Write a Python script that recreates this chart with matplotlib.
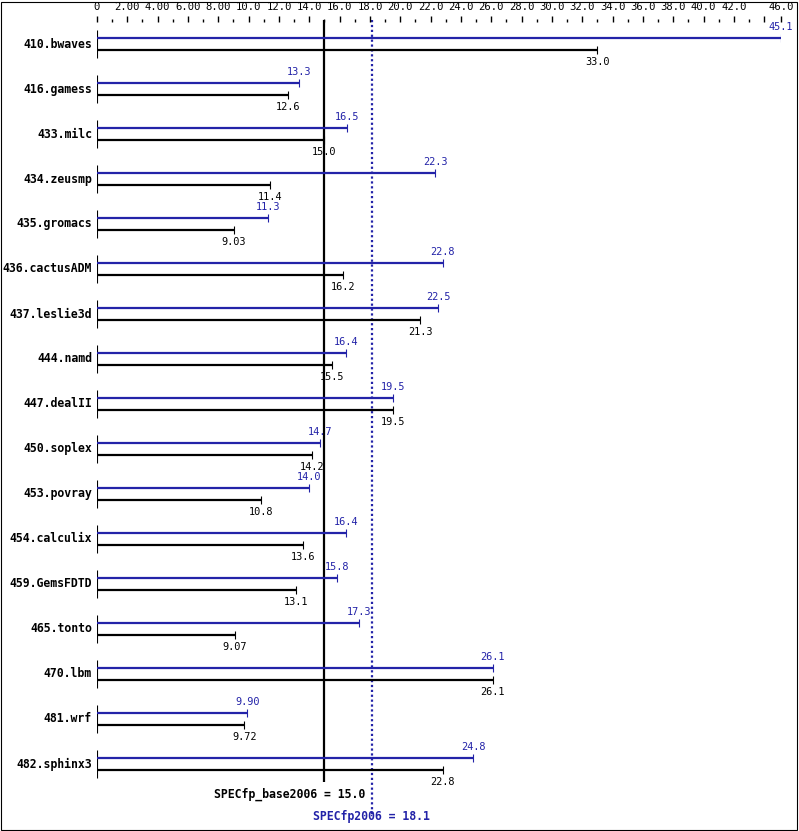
import matplotlib
matplotlib.use("Agg")
import matplotlib.pyplot as plt
from matplotlib.patches import Rectangle

plt.rcParams['font.family'] = ['DejaVu Sans Mono']

benchmarks = ["410.bwaves", "416.gamess", "433.milc", "434.zeusmp", "435.gromacs",
              "436.cactusADM", "437.leslie3d", "444.namd", "447.dealII", "450.soplex",
              "453.povray", "454.calculix", "459.GemsFDTD", "465.tonto", "470.lbm",
              "481.wrf", "482.sphinx3"]
peak = [45.1, 13.3, 16.5, 22.3, 11.3, 22.8, 22.5, 16.4, 19.5, 14.7,
        14.0, 16.4, 15.8, 17.3, 26.1, 9.90, 24.8]
base = [33.0, 12.6, 15.0, 11.4, 9.03, 16.2, 21.3, 15.5, 19.5, 14.2,
        10.8, 13.6, 13.1, 9.07, 26.1, 9.72, 22.8]
peak_labels = ["45.1", "13.3", "16.5", "22.3", "11.3", "22.8", "22.5", "16.4", "19.5", "14.7",
               "14.0", "16.4", "15.8", "17.3", "26.1", "9.90", "24.8"]
base_labels = ["33.0", "12.6", "15.0", "11.4", "9.03", "16.2", "21.3", "15.5", "19.5", "14.2",
               "10.8", "13.6", "13.1", "9.07", "26.1", "9.72", "22.8"]
base_score = 15.0
peak_score = 18.1
tick_vals = [0, 2, 4, 6, 8, 10, 12, 14, 16, 18, 20, 22, 24, 26, 28, 30, 32, 34, 36, 38, 40, 42, 44, 45.1]
tick_text = ["0", "2.00", "4.00", "6.00", "8.00", "10.0", "12.0", "14.0", "16.0", "18.0", "20.0",
             "22.0", "24.0", "26.0", "28.0", "30.0", "32.0", "34.0", "36.0", "38.0", "40.0", "42.0",
             "", "46.0"]

BLUE = '#2323a8'
W, H = 799, 831
fig = plt.figure(figsize=(W / 100, H / 100), dpi=100)
top_px = 22
ax = fig.add_axes([97 / W, 0, 684 / W, 1 - top_px / H])
ax.set_xlim(0, 45.1)
ax.set_ylim(H, top_px)   # y in pixels from top of figure
for s in ax.spines.values():
    s.set_visible(False)
ax.set_yticks([])

ax.xaxis.tick_top()
ax.set_xticks(tick_vals)
ax.set_xticklabels(tick_text, fontsize=7.6)
ax.set_xticks(range(1, 45, 2), minor=True)
ax.tick_params(axis='x', which='major', direction='out', length=4, width=1, pad=3)
ax.tick_params(axis='x', which='minor', direction='out', length=2.2, width=1)

# reference lines
ax.vlines(base_score, 20, 782, color='black', lw=1.6, clip_on=False, zorder=1)
ax.vlines(peak_score, 20, 815, color=BLUE, lw=1.6, linestyles=(0, (1, 1.2)), clip_on=False, zorder=1)

for i, name in enumerate(benchmarks):
    yc = 44 + 45 * i
    yb, yk = yc - 6, yc + 6
    ax.vlines(0, yb - 8, yk + 8, color='black', lw=0.8)
    ax.hlines(yb, 0, peak[i], color=BLUE, lw=1.6, zorder=3)
    ax.vlines(peak[i], yb - 4, yb + 4, color=BLUE, lw=0.8, zorder=3)
    ax.hlines(yk, 0, base[i], color='black', lw=1.6, zorder=3)
    ax.vlines(base[i], yk - 4, yk + 4, color='black', lw=0.8, zorder=3)
    ax.annotate(name, xy=(0, yc), xytext=(-5, 0), textcoords='offset pixels',
                ha='right', va='center', fontsize=8.3, fontweight='bold', annotation_clip=False)
    ax.text(peak[i], yb - 11, peak_labels[i], color=BLUE, ha='center', va='center', fontsize=7.4)
    ax.text(base[i], yk + 12, base_labels[i], color='black', ha='center', va='center', fontsize=7.4)

ax.annotate("SPECfp_base2006 = 15.0", xy=(peak_score, 794), xytext=(-6, 0),
            textcoords='offset pixels', ha='right', va='center', fontsize=8.3, fontweight='bold')
ax.text(peak_score, 817, "SPECfp2006 = 18.1", color=BLUE, ha='center', va='center',
        fontsize=8.3, fontweight='bold')

fig.patches.append(Rectangle((0.5 / W, 1.5 / H), (W - 3) / W, (H - 3) / H, transform=fig.transFigure,
                             fill=False, edgecolor='black', lw=0.8))

fig.savefig("out.png", dpi=100)
